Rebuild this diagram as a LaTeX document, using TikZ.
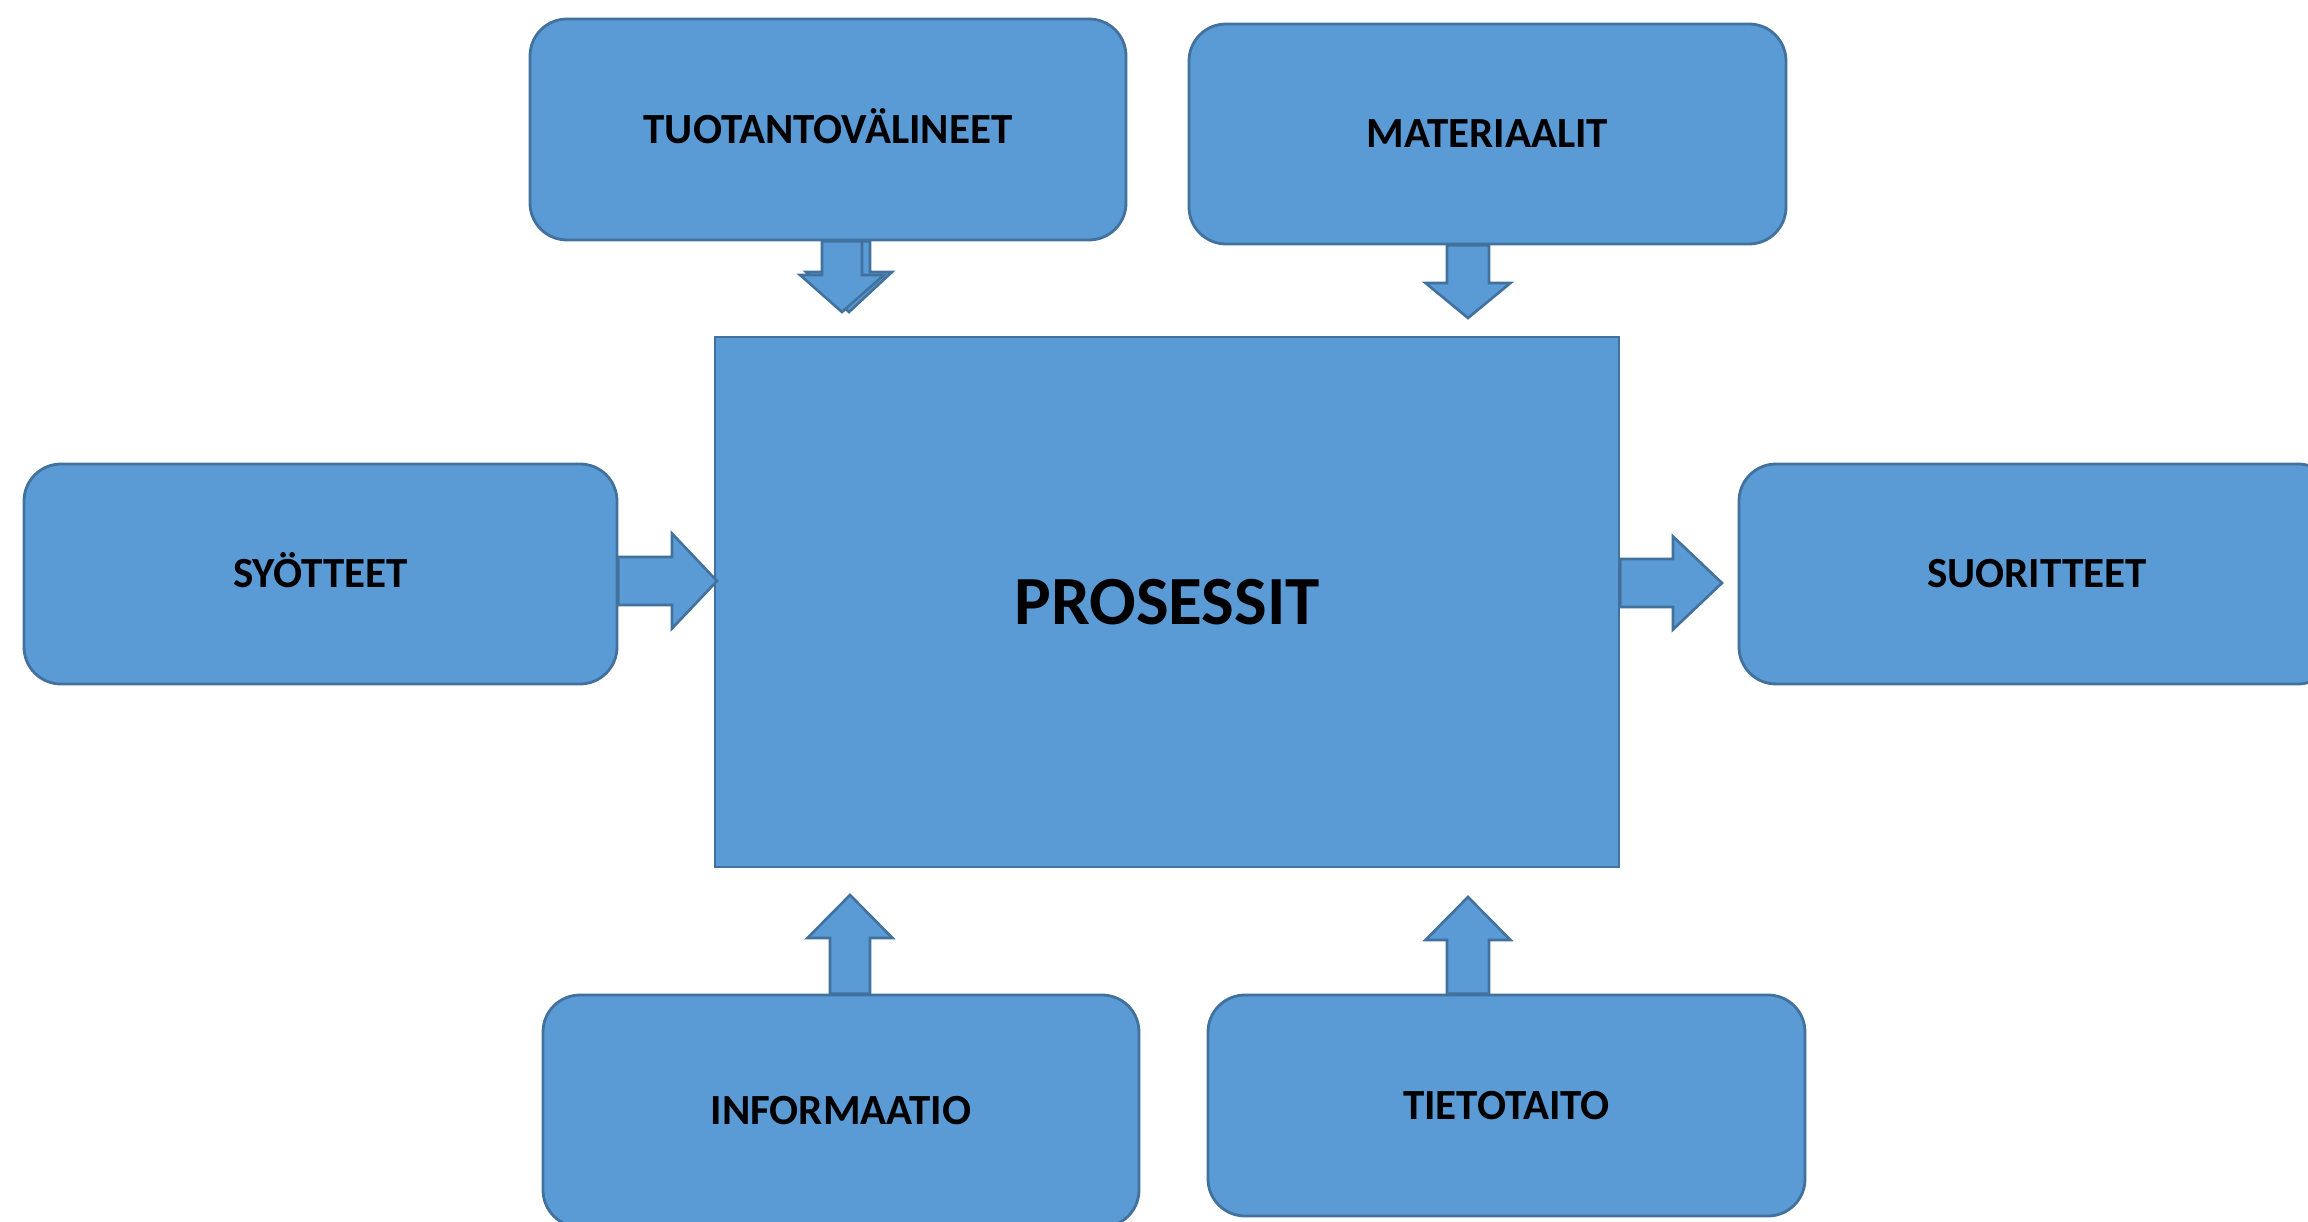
\documentclass[tikz,border=0pt]{standalone}
\usepackage{fontspec}
\setmainfont{Carlito}
\usetikzlibrary{calc}

\definecolor{boxfill}{HTML}{5B9BD5}
\definecolor{boxline}{HTML}{41719C}

\tikzset{
  block/.style={draw=boxline, fill=boxfill, line width=2.8pt, rounded corners=37pt,
    inner sep=0pt, text=black,
    font=\fontsize{43}{50}\bfseries\selectfont, text height=27.5pt, text depth=0pt},
  mainblock/.style={draw=boxline, fill=boxfill, line width=2.8pt, inner sep=0pt,
    font=\fontsize{69}{80}\bfseries\selectfont, text height=44pt, text depth=0pt},
  flow/.style={draw=boxline, fill=boxfill, line width=2.6pt, line join=miter}
}

% block arrow from #1 to #2: shaft half width #3, head half width #4, head length #5
\newcommand\blockarrow[5]{%
  \coordinate (ba-base) at ($(#2)!#5!(#1)$);
  \path[flow] ($(#1)!#3!90:(#2)$) -- ($(ba-base)!#3!90:(#2)$) -- ($(ba-base)!#4!90:(#2)$)
    -- (#2) -- ($(ba-base)!#4!-90:(#2)$) -- ($(ba-base)!#3!-90:(#2)$)
    -- ($(#1)!#3!-90:(#2)$) -- cycle;
}

\begin{document}
\begin{tikzpicture}[x=1pt, y=-1pt]
\useasboundingbox (0,0) rectangle (2308,1222);
\fill[white] (0,0) rectangle (2308,1222);

% the process and the blocks around it
\node[mainblock, minimum width=904pt, minimum height=530pt] (pro) at (1167,602) {PROSESSIT};
\node[block, minimum width=596pt, minimum height=221pt] (tuo) at (828,129.5) {TUOTANTOVÄLINEET};
\node[block, minimum width=597pt, minimum height=220pt] (mat) at (1487.5,134) {MATERIAALIT};
\node[block, minimum width=593pt, minimum height=220pt] (syo) at (320.5,574) {SYÖTTEET};
\node[block, minimum width=596pt, minimum height=220pt] (suo) at (2037,574) {SUORITTEET};
\node[block, minimum width=596pt, minimum height=232pt] (inf) at (841,1111) {INFORMAATIO};
\node[block, minimum width=597pt, minimum height=221pt] (tie) at (1506.5,1105.5) {TIETOTAITO};

% arrow tips
\coordinate (t1b) at (849,312);
\coordinate (t1) at (842,312);
\coordinate (t2) at (1468,318);
\coordinate (t3) at (717,581);
\coordinate (t4) at (1722,583);
\coordinate (t5) at (850,895);
\coordinate (t6) at (1468,897);

% arrows into and out of the process
\blockarrow{tuo.south -| t1b}{t1b}{21pt}{43pt}{40pt}
\blockarrow{tuo.south -| t1}{t1}{20pt}{42pt}{37pt}
\blockarrow{mat.south -| t2}{t2}{21pt}{42.5pt}{35pt}
\blockarrow{syo.east |- t3}{t3}{24pt}{47.5pt}{45pt}
\blockarrow{pro.east |- t4}{t4}{24pt}{46.5pt}{49pt}
\blockarrow{inf.north -| t5}{t5}{20pt}{42.5pt}{43pt}
\blockarrow{tie.north -| t6}{t6}{21pt}{42.5pt}{43pt}
\end{tikzpicture}
\end{document}
